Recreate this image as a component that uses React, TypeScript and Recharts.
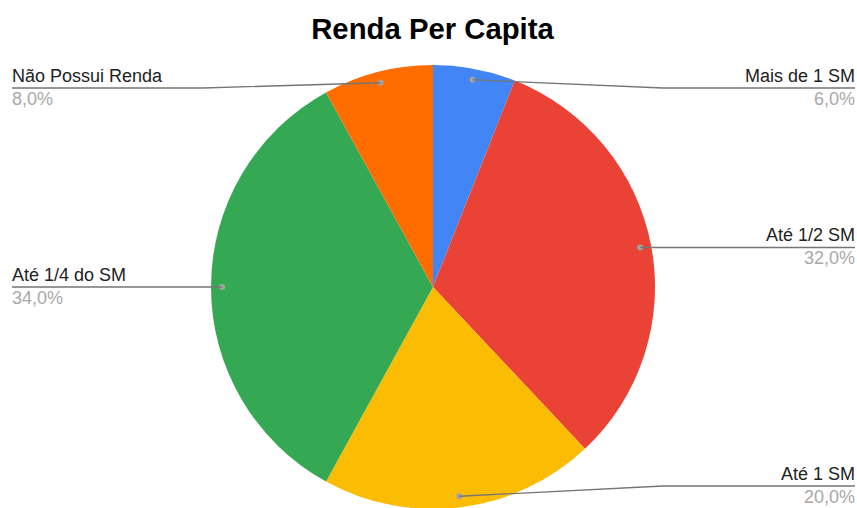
import { PieChart, Pie, Cell } from "recharts";

const categories = ["Mais de 1 SM", "Até 1/2 SM", "Até 1 SM", "Até 1/4 do SM", "Não Possui Renda"];
const shares = [6, 32, 20, 34, 8];
const colors = ["#4285F4", "#EA4335", "#FBBC04", "#34A853", "#FF6D01"];

const data = categories.map((name, i) => ({ name, value: shares[i] }));

const W = 857;
const H = 508;
const RAD = Math.PI / 180;
const FONT = "'Liberation Sans', Arial, sans-serif";

const renderLabel = (props: any) => {
  const { cx, cy, midAngle, outerRadius, name, value } = props;
  const r = outerRadius * 0.95;
  const dx = cx + r * Math.cos(-midAngle * RAD);
  const dy = cy + r * Math.sin(-midAngle * RAD);
  const right = dx >= cx;
  const lineY = Math.min(Math.max(dy, 88), 486);
  const elbowX = right ? cx + outerRadius + 8 : cx - outerRadius - 8;
  const endX = right ? W - 2 : 12;
  const anchor = right ? "end" : "start";
  return (
    <g>
      <circle cx={dx} cy={dy} r={3} fill="#a3a3a3" />
      <polyline
        points={`${dx},${dy} ${elbowX},${lineY} ${endX},${lineY}`}
        fill="none"
        stroke="#757575"
        strokeWidth={1.3}
      />
      <text x={endX} y={lineY - 6} textAnchor={anchor} fontSize={18} fill="#222" fontFamily={FONT}>
        {name}
      </text>
      <text x={endX} y={lineY + 17} textAnchor={anchor} fontSize={18} fill="#a8a8a8" fontFamily={FONT}>
        {value.toFixed(1).replace(".", ",")}%
      </text>
    </g>
  );
};

export default function App() {
  return (
    <div style={{ position: "absolute", left: 0, top: 0, width: W, height: H, background: "#fff" }}>
      <div
        style={{
          position: "absolute",
          left: 0,
          top: 14,
          width: 865,
          textAlign: "center",
          fontFamily: FONT,
          fontWeight: 700,
          fontSize: 29.3,
          lineHeight: "29px",
          color: "#000",
        }}
      >
        Renda Per Capita
      </div>
      <PieChart width={W} height={H} margin={{ top: 0, right: 0, bottom: 0, left: 0 }}>
        <Pie
          data={data}
          dataKey="value"
          nameKey="name"
          cx={433}
          cy={287}
          outerRadius={222}
          startAngle={90}
          endAngle={-270}
          stroke="none"
          label={renderLabel}
          labelLine={false}
          isAnimationActive={false}
        >
          {data.map((d, i) => (
            <Cell key={d.name} fill={colors[i]} />
          ))}
        </Pie>
      </PieChart>
    </div>
  );
}
